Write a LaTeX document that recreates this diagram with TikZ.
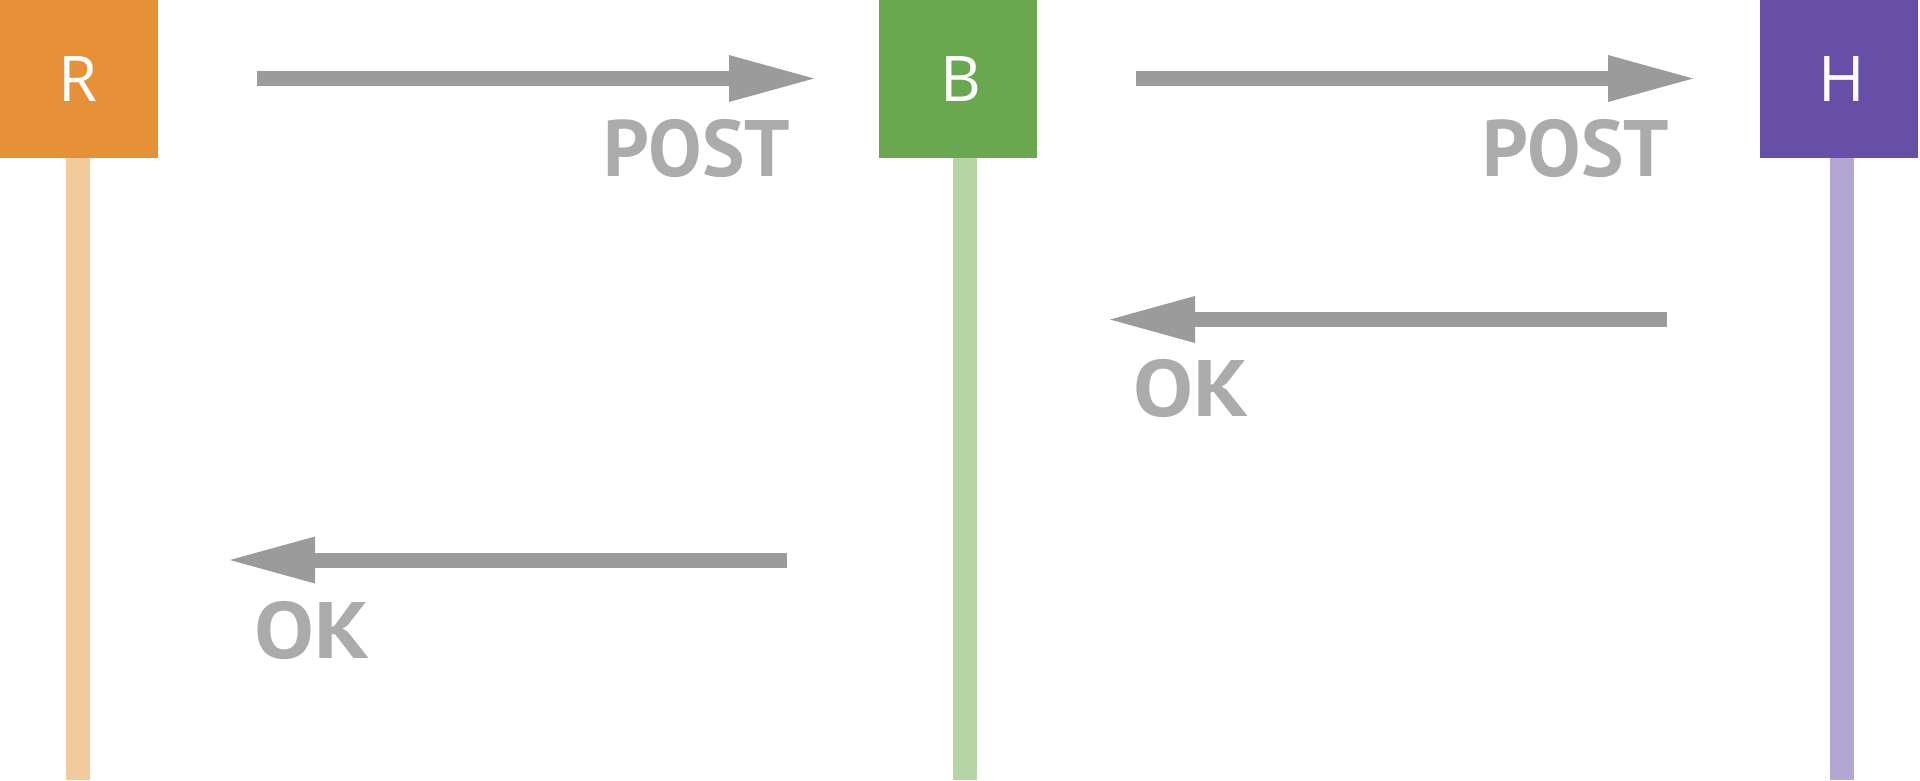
\documentclass[tikz,border=0pt]{standalone}
\usepackage{fontspec}
\setmainfont{Open Sans}
\newfontfamily\labelfont{PT Sans}
\usetikzlibrary{arrows.meta}
\definecolor{cR}{RGB}{230,145,56}
\definecolor{cB}{RGB}{106,168,79}
\definecolor{cH}{RGB}{103,78,167}
\definecolor{lR}{RGB}{243,201,158}
\definecolor{lB}{RGB}{181,213,167}
\definecolor{lH}{RGB}{179,166,211}
\definecolor{arrgray}{RGB}{155,155,155}
\definecolor{txtgray}{RGB}{171,171,171}
\tikzset{
  actor/.style={fill=#1, draw=none, minimum width=158pt, minimum height=158pt, inner sep=0pt},
  actorlabel/.style={text=white, inner sep=0pt, font=\fontsize{63}{63}\selectfont},
  lifeline/.style={draw=#1, line width=24pt},
  msg/.style={draw=arrgray, line width=15pt, -{Triangle[length=85pt,width=47pt,line width=0pt]}},
  msglabel/.style={text=txtgray, inner sep=0pt, font=\labelfont\bfseries\fontsize{80}{80}\selectfont}
}
\begin{document}
\begin{tikzpicture}[x=1pt,y=-1pt]
\useasboundingbox (0,0) rectangle (1920,780);
% actors
\node[actor=cR] (R) at (79,79) {};
\node[actor=cB] (B) at (958,79) {};
\node[actor=cH] (H) at (1838.5,79) {};
\node[actorlabel] (Rt) at (78,79) {R};
\node[actorlabel] (Bt) at (961,79) {B};
\node[actorlabel] (Ht) at (1842,79) {H};
% lifelines
\coordinate (Rb) at (78,780);
\coordinate (Bb) at (965,780);
\coordinate (Hb) at (1842,780);
\draw[lifeline=lR] (R.south -| Rb) -- (Rb);
\draw[lifeline=lB] (B.south -| Bb) -- (Bb);
\draw[lifeline=lH] (H.south -| Hb) -- (Hb);
% messages
\coordinate (m1s) at (257,78.5);
\coordinate (m1e) at (814,78.5);
\coordinate (m2s) at (1136,78.5);
\coordinate (m2e) at (1693,78.5);
\coordinate (m3s) at (1667,319.5);
\coordinate (m3e) at (1110,319.5);
\coordinate (m4s) at (787,560);
\coordinate (m4e) at (230,560);
\draw[msg] (m1s) -- (m1e);
\draw[msg] (m2s) -- (m2e);
\draw[msg] (m3s) -- (m3e);
\draw[msg] (m4s) -- (m4e);
% labels
\node[msglabel, anchor=base east] (l1) at (790,176) {POST};
\node[msglabel, anchor=base east] (l2) at (1669,176) {POST};
\node[msglabel, anchor=base west] (l3) at (1133,416) {\scalebox{1.12}[1]{OK}};
\node[msglabel, anchor=base west] (l4) at (254,658) {\scalebox{1.12}[1]{OK}};
\end{tikzpicture}
\end{document}
